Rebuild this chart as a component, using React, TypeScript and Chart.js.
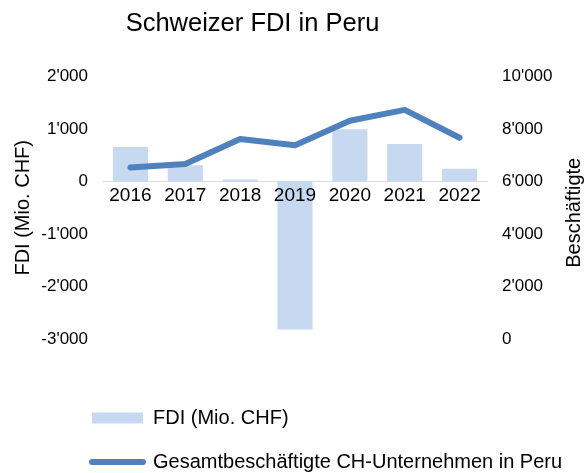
import React, { useEffect, useRef } from 'react';
import { Chart, registerables } from 'chart.js';

Chart.register(...registerables);

const TITLE = 'Schweizer FDI in Peru';
const YEARS = ['2016', '2017', '2018', '2019', '2020', '2021', '2022'];
const FDI = [660, 310, 40, -2820, 995, 715, 245];
const EMPLOYEES = [6540, 6670, 7620, 7380, 8320, 8730, 7670];
const FDI_LABEL = 'FDI (Mio. CHF)';
const EMP_LABEL = 'Gesamtbeschäftigte CH-Unternehmen in Peru';
const LEFT_AXIS_TITLE = 'FDI (Mio. CHF)';
const RIGHT_AXIS_TITLE = 'Beschäftigte';
const LEFT_MIN = -3000;
const LEFT_MAX = 2000;
const LEFT_STEP = 1000;
const RIGHT_MIN = 0;
const RIGHT_MAX = 10000;
const RIGHT_STEP = 2000;

const FONT = "'Liberation Sans', Arial, Helvetica, sans-serif";
const BAR_COLOR = '#c6d9f1';
const LINE_COLOR = '#4f81bd';
const TEXT_COLOR = '#000000';

const fmt = (v: number) => {
  const s = Math.abs(Math.round(v)).toString().replace(/\B(?=(\d{3})+(?!\d))/g, "'");
  return (v < 0 ? '-' : '') + s;
};

const layoutTweaks = {
  id: 'layoutTweaks',
  afterLayout(chart: any) {
    const lg = chart.legend;
    if (lg) {
      lg.left = 68;
      lg.right = chart.width;
      lg.top = 384;
      lg.bottom = chart.height;
    }
    const t = chart.titleBlock;
    if (t) {
      t.left = 0;
      t.right = 505;
    }
  },
  afterDraw(chart: any) {
    const ctx = chart.ctx;
    const area = chart.chartArea;
    ctx.save();
    ctx.font = `20px ${FONT}`;
    ctx.fillStyle = TEXT_COLOR;
    ctx.textAlign = 'center';
    ctx.textBaseline = 'middle';
    ctx.translate(chart.width - 11, (area.top + area.bottom) / 2 + 5);
    ctx.rotate(-Math.PI / 2);
    ctx.fillText(RIGHT_AXIS_TITLE, 0, 0);
    ctx.restore();
  },
};

export default function App() {
  const ref = useRef<HTMLCanvasElement>(null);

  useEffect(() => {
    if (!ref.current) return;
    Chart.defaults.font.family = FONT;
    const chart = new Chart(ref.current, {
      type: 'bar',
      data: {
        labels: YEARS,
        datasets: [
          {
            type: 'bar',
            label: FDI_LABEL,
            data: FDI,
            backgroundColor: BAR_COLOR,
            borderWidth: 0,
            yAxisID: 'y',
            order: 2,
            barPercentage: 0.64,
            categoryPercentage: 1,
          } as any,
          {
            type: 'line',
            label: EMP_LABEL,
            data: EMPLOYEES,
            borderColor: LINE_COLOR,
            backgroundColor: LINE_COLOR,
            borderWidth: 6,
            borderCapStyle: 'round',
            borderJoinStyle: 'round',
            pointRadius: 0,
            pointHoverRadius: 0,
            tension: 0,
            fill: false,
            yAxisID: 'y1',
            order: 1,
          } as any,
        ],
      },
      options: {
        responsive: false,
        animation: false,
        layout: { padding: { top: 0, left: 0, right: 0, bottom: 36 } },
        scales: {
          x: {
            type: 'category',
            position: { y: 0 } as any,
            offset: true,
            grid: { display: false, drawTicks: false },
            border: { display: true, color: '#d9d9d9', width: 1 },
            ticks: { font: { size: 19 }, color: TEXT_COLOR, padding: 3, maxRotation: 0, autoSkip: false, z: 1 },
          },
          y: {
            type: 'linear',
            position: 'left',
            min: LEFT_MIN,
            max: LEFT_MAX,
            grid: { display: false, drawTicks: false },
            border: { display: false },
            ticks: {
              stepSize: LEFT_STEP,
              font: { size: 17 },
              color: TEXT_COLOR,
              padding: 15,
              callback: (v: any) => fmt(Number(v)),
            },
            title: {
              display: true,
              text: LEFT_AXIS_TITLE,
              font: { size: 20 },
              color: TEXT_COLOR,
              padding: { top: 11, bottom: 6 },
            },
            afterFit: (scale: any) => {
              scale.width = 103;
            },
          },
          y1: {
            type: 'linear',
            position: 'right',
            min: RIGHT_MIN,
            max: RIGHT_MAX,
            grid: { display: false, drawTicks: false },
            border: { display: false },
            ticks: {
              stepSize: RIGHT_STEP,
              font: { size: 17 },
              color: TEXT_COLOR,
              padding: 15,
              callback: (v: any) => fmt(Number(v)),
            },
            afterFit: (scale: any) => {
              scale.width = 98;
            },
          },
        },
        plugins: {
          title: {
            display: true,
            text: TITLE,
            color: TEXT_COLOR,
            font: { size: 25.5, weight: 'normal' },
            padding: { top: 9, bottom: 37 },
          },
          legend: {
            display: true,
            position: 'bottom',
            align: 'start',
            labels: {
              usePointStyle: true,
              pointStyleWidth: 51,
              boxHeight: 11,
              padding: 24,
              color: TEXT_COLOR,
              font: { size: 20 },
              generateLabels: (c: any) =>
                c.data.datasets.map((ds: any, i: number) => ({
                  text: ds.label,
                  fillStyle: ds.type === 'line' ? ds.borderColor : ds.backgroundColor,
                  strokeStyle: ds.type === 'line' ? ds.borderColor : ds.backgroundColor,
                  lineWidth: ds.type === 'line' ? ds.borderWidth : 0,
                  lineCap: 'round',
                  pointStyle: ds.type === 'line' ? 'line' : 'rect',
                  fontColor: TEXT_COLOR,
                  hidden: false,
                  datasetIndex: i,
                })),
            },
          },
          tooltip: { enabled: false },
        },
      },
      plugins: [layoutTweaks],
    });
    return () => chart.destroy();
  }, []);

  return (
    <div style={{ position: 'absolute', left: 0, top: 0, width: 585, height: 473, background: '#fff' }}>
      <canvas ref={ref} width={585} height={473} style={{ display: 'block' }} />
    </div>
  );
}
